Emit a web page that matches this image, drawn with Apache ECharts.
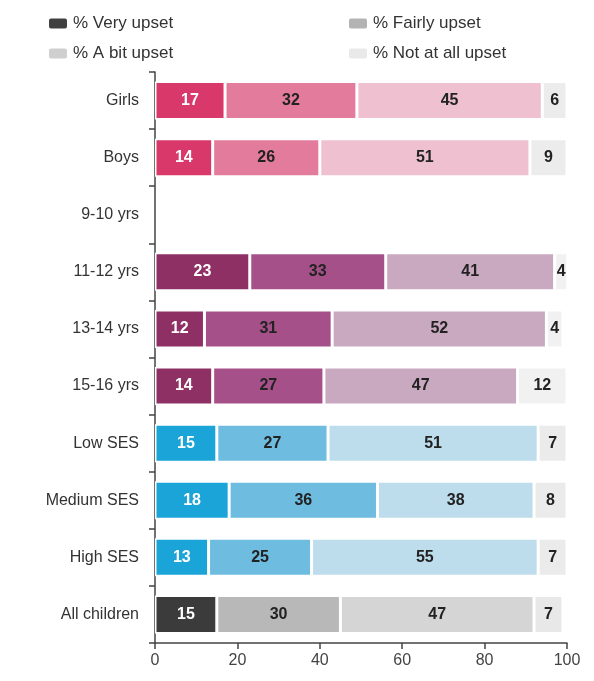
<!DOCTYPE html>
<html>
<head>
<meta charset="utf-8">
<script src="https://cdn.jsdelivr.net/npm/echarts@6/dist/echarts.min.js"></script>
<style>
  html, body { margin: 0; padding: 0; background: #fff; }
  #chart { width: 594px; height: 681px; }
</style>
</head>
<body>
<div id="chart"></div>
<script>
// categories top to bottom
var categories = ['Girls', 'Boys', '9-10 yrs', '11-12 yrs', '13-14 yrs', '15-16 yrs',
    'Low SES', 'Medium SES', 'High SES', 'All children'];
var seriesNames = ['% Very upset', '% Fairly upset', '% A bit upset', '% Not at all upset'];
var veryUpset    = [17, 14, null, 23, 12, 14, 15, 18, 13, 15];
var fairlyUpset  = [32, 26, null, 33, 31, 27, 27, 36, 25, 30];
var bitUpset     = [45, 51, null, 41, 52, 47, 51, 38, 55, 47];
var notUpset     = [6, 9, null, 4, 4, 12, 7, 8, 7, 7];
var xTicks = [0, 20, 40, 60, 80, 100];

// colour group of each row: pink = gender, purple = age, blue = SES, grey = all
var rowGroup = ['pink', 'pink', 'purple', 'purple', 'purple', 'purple', 'blue', 'blue', 'blue', 'grey'];
var palette = {
    pink:   ['#d9386b', '#e27b9c', '#efc0d0', '#ececec'],
    purple: ['#8f3065', '#a6508a', '#c9a9c0', '#f1f1f1'],
    blue:   ['#1ba4d7', '#6ebde0', '#bddcec', '#ebebeb'],
    grey:   ['#3b3b3b', '#b8b8b8', '#d5d5d5', '#e8e8e8']
};
var legendColors = ['#404040', '#b3b3b3', '#cfcfcf', '#e9e9e9'];

var allValues = [veryUpset, fairlyUpset, bitUpset, notUpset];

function buildSeries(k) {
    return {
        name: seriesNames[k],
        type: 'bar',
        stack: 'total',
        barWidth: 38,
        itemStyle: { color: legendColors[k], borderColor: '#fff', borderWidth: 1.5 },
        label: {
            show: true,
            position: 'inside',
            fontFamily: 'Liberation Sans',
            fontWeight: 'bold',
            fontSize: 16,
            color: k === 0 ? '#fff' : '#222',
            formatter: function (p) { return p.value == null ? '' : p.value; }
        },
        data: allValues[k].map(function (v, i) {
            return { value: v, itemStyle: { color: palette[rowGroup[i]][k] } };
        })
    };
}

var chart = echarts.init(document.getElementById('chart'));
chart.setOption({
    animation: false,
    textStyle: { fontFamily: 'Liberation Sans' },
    legend: [{
        left: 42, top: 10, orient: 'vertical', itemGap: 13,
        itemWidth: 20, itemHeight: 12,
        data: [seriesNames[0], seriesNames[2]],
        textStyle: { fontSize: 17, color: '#333', fontFamily: 'Liberation Sans' }
    }, {
        left: 342, top: 10, orient: 'vertical', itemGap: 13,
        itemWidth: 20, itemHeight: 12,
        data: [seriesNames[1], seriesNames[3]],
        textStyle: { fontSize: 17, color: '#333', fontFamily: 'Liberation Sans' }
    }],
    grid: { left: 155, right: 27, top: 72, bottom: 38 },
    xAxis: {
        type: 'value', min: xTicks[0], max: xTicks[xTicks.length - 1], interval: 20,
        splitLine: { show: false },
        axisLine: { show: true, lineStyle: { color: '#444', width: 1.5 } },
        axisTick: { show: true, length: 6, lineStyle: { color: '#444', width: 1.5 } },
        axisLabel: { fontSize: 16, color: '#444', margin: 10 }
    },
    yAxis: {
        type: 'category', inverse: true, data: categories,
        axisLine: { show: true, lineStyle: { color: '#444', width: 1.5 } },
        axisTick: { show: true, length: 6, lineStyle: { color: '#444', width: 1.5 } },
        axisLabel: { fontSize: 16, color: '#333', margin: 16 }
    },
    series: [0, 1, 2, 3].map(buildSeries)
});
</script>
</body>
</html>
